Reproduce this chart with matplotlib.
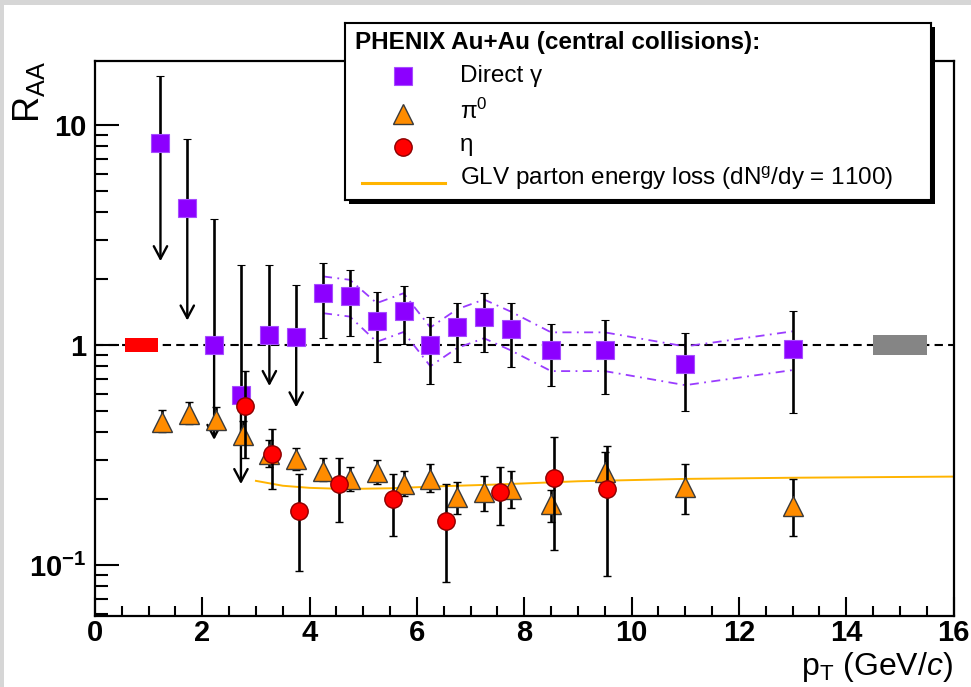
import matplotlib
matplotlib.use('Agg')
import matplotlib.pyplot as plt
import numpy as np
from matplotlib.patches import Rectangle
from matplotlib.ticker import MultipleLocator, FixedLocator, FuncFormatter, LogLocator, NullFormatter

plt.rcParams['font.family'] = ['Liberation Sans', 'DejaVu Sans']
plt.rcParams['mathtext.fontset'] = 'custom'
plt.rcParams['mathtext.rm'] = 'Liberation Sans'
plt.rcParams['mathtext.it'] = 'Liberation Sans:italic'
plt.rcParams['mathtext.bf'] = 'Liberation Sans:bold'
plt.rcParams['mathtext.default'] = 'regular'

# Direct photons (first 6 points are upper limits -> arrows)
gam_x = [1.22, 1.72, 2.22, 2.72, 3.25, 3.75, 4.25, 4.75, 5.25, 5.75, 6.25, 6.75, 7.25, 7.75, 8.5, 9.5, 11.0, 13.0]
gam_y = [8.3, 4.2, 1.0, 0.59, 1.11, 1.09, 1.72, 1.66, 1.29, 1.43, 1.0, 1.21, 1.34, 1.18, 0.95, 0.95, 0.82, 0.96]
gam_hi = [16.7, 8.6, 3.74, 2.31, 2.31, 1.87, 2.36, 2.19, 1.74, 1.85, 1.34, 1.55, 1.72, 1.55, 1.25, 1.30, 1.13, 1.43]
gam_lo = [None, None, None, None, None, None, 1.08, 1.10, 0.84, 1.01, 0.665, 0.84, 0.93, 0.79, 0.65, 0.60, 0.50, 0.49]
gam_arrow_tip = [2.4, 1.29, 0.37, 0.233, 0.65, 0.52]
# systematic band (relative) for the measured points
gam_sys = [0.19, 0.19, 0.2, 0.2, 0.2, 0.2, 0.2, 0.2, 0.2, 0.2, 0.2, 0.2]

# pi0
pi_x = [1.25, 1.75, 2.25, 2.75, 3.25, 3.75, 4.25, 4.75, 5.25, 5.75, 6.25, 6.75, 7.25, 7.75, 8.5, 9.5, 11.0, 13.0]
pi_y = [0.447, 0.486, 0.457, 0.39, 0.32, 0.303, 0.267, 0.246, 0.265, 0.233, 0.246, 0.204, 0.215, 0.222, 0.19, 0.265, 0.226, 0.185]
pi_hi = [0.506, 0.55, 0.52, 0.45, 0.37, 0.34, 0.306, 0.28, 0.30, 0.268, 0.288, 0.239, 0.254, 0.268, 0.22, 0.326, 0.288, 0.246]
pi_lo = [0.40, 0.437, 0.415, 0.355, 0.28, 0.27, 0.24, 0.217, 0.234, 0.206, 0.215, 0.171, 0.176, 0.182, 0.157, 0.22, 0.171, 0.135]

# eta
eta_x = [2.8, 3.3, 3.8, 4.55, 5.55, 6.55, 7.55, 8.55, 9.55]
eta_y = [0.528, 0.32, 0.176, 0.233, 0.2, 0.158, 0.215, 0.248, 0.222]
eta_hi = [0.76, 0.415, 0.259, 0.306, 0.259, 0.233, 0.279, 0.382, 0.348]
eta_lo = [0.306, 0.222, 0.094, 0.157, 0.135, 0.084, 0.152, 0.117, 0.089]

# GLV energy loss curve
glv_x = [3.0, 3.5, 4.0, 4.5, 5.0, 5.5, 6.5, 7.5, 9.0, 11.0, 13.0, 16.0]
glv_y = [0.241, 0.229, 0.224, 0.222, 0.222, 0.223, 0.228, 0.232, 0.240, 0.246, 0.249, 0.252]

# normalisation boxes at R_AA = 1
red_box = [0.55, 1.17, 0.93, 1.075]
grey_box = [14.5, 15.5, 0.90, 1.11]

W, H = 971, 687
fig = plt.figure(figsize=(W / 100, H / 100), dpi=100)
fig.patch.set_facecolor('#d6d6d6')
fig.add_artist(Rectangle((4 / W, 0), 967 / W, 682 / H, transform=fig.transFigure,
                         facecolor='white', edgecolor='none', zorder=-5))

ax = fig.add_axes([95 / W, 1 - 616 / H, 858.5 / W, 555 / H])
ax.set_yscale('log')
ax.set_xlim(0, 16)
ax.set_ylim(0.0586, 19.5)

ax.axhline(1.0, color='black', ls=(0, (4, 2.5)), lw=1.5, zorder=1)
ax.fill_between(red_box[:2], red_box[2], red_box[3], color='#ff0000', lw=0, zorder=2)
ax.fill_between(grey_box[:2], grey_box[2], grey_box[3], color='#858585', lw=0, zorder=2)

ax.plot(glv_x, glv_y, color='#ffb400', lw=1.4, zorder=2)

# photon systematic band
nl = len(gam_arrow_tip)
mx = np.array(gam_x[nl:])
my = np.array(gam_y[nl:])
sy = np.array(gam_sys)
for sgn in (1, -1):
    ax.plot(mx, my * (1 + sgn * sy), color='#9a3cff', lw=1.3, ls=(0, (5, 3, 1, 3)), zorder=2)

ebkw = dict(ecolor='black', elinewidth=1.9, capsize=3, capthick=1.9, ls='none')

# photons: limits
gx = np.array(gam_x)
gy = np.array(gam_y)
ghi = np.array(gam_hi)
ax.errorbar(gx[:nl], gy[:nl], yerr=[np.zeros(nl), ghi[:nl] - gy[:nl]],
            marker='s', ms=13, mfc='#8c00ff', mec='#a64dff', mew=0.8, zorder=3, **ebkw)
for x, y, t in zip(gam_x[:nl], gam_y[:nl], gam_arrow_tip):
    ax.annotate('', xy=(x, t), xytext=(x, y),
                arrowprops=dict(arrowstyle='->,head_length=0.45,head_width=0.24',
                                mutation_scale=20, lw=1.7, color='black',
                                shrinkA=0, shrinkB=0), zorder=3)
glo = np.array(gam_lo[nl:], dtype=float)
ax.errorbar(gx[nl:], gy[nl:], yerr=[gy[nl:] - glo, ghi[nl:] - gy[nl:]],
            marker='s', ms=13, mfc='#8c00ff', mec='#a64dff', mew=0.8, zorder=3, **ebkw)

# pi0
py = np.array(pi_y)
ax.errorbar(pi_x, pi_y, yerr=[py - np.array(pi_lo), np.array(pi_hi) - py],
            marker='^', ms=15, mfc='#ff8c00', mec='#3a3a3a', mew=1.0, zorder=4, **ebkw)

# eta
ey = np.array(eta_y)
ax.errorbar(eta_x, eta_y, yerr=[ey - np.array(eta_lo), np.array(eta_hi) - ey],
            marker='o', ms=12.5, mfc='#ff0000', mec='#8b0000', mew=1.0, zorder=5, **ebkw)

# axes styling
for s in ax.spines.values():
    s.set_linewidth(1.6)
ax.xaxis.set_major_locator(MultipleLocator(2))
ax.xaxis.set_minor_locator(MultipleLocator(0.5))
ax.yaxis.set_major_locator(FixedLocator([0.1, 1, 10]))
ax.yaxis.set_minor_locator(LogLocator(base=10, subs=np.arange(2, 10)))
ax.yaxis.set_minor_formatter(NullFormatter())
ylabels = {0.1: '10$^{-1}$', 1: '1', 10: '10'}
ax.yaxis.set_major_formatter(FuncFormatter(lambda v, p: ylabels.get(round(v, 3), '')))
ax.tick_params(which='both', direction='in', top=False, right=False, width=1.5)
ax.tick_params(axis='x', which='major', length=14, pad=2, labelsize=21)
ax.tick_params(axis='x', which='minor', length=7)
ax.tick_params(axis='y', which='major', length=17, pad=6, labelsize=21)
ax.tick_params(axis='y', which='minor', length=9)
for lab in ax.get_xticklabels() + ax.get_yticklabels():
    lab.set_fontweight('bold')

fig.text(953 / W, 1 - 675 / H, r'p$_T$ (GeV/$\mathit{c}$)', ha='right', va='baseline', fontsize=23)
fig.text(29 / W, 1 - 61 / H, r'R$_{AA}$', rotation=90, ha='center', va='top', fontsize=26)

# legend box with shadow
lx, ly, lw_, lh = 345, 23, 586, 177
fig.add_artist(Rectangle(((lx + 4) / W, 1 - (ly + lh + 4) / H), lw_ / W, lh / H,
                         transform=fig.transFigure, facecolor='black', edgecolor='none', zorder=1))
lax = fig.add_axes([lx / W, 1 - (ly + lh) / H, lw_ / W, lh / H], zorder=2)
lax.set_xlim(0, lw_)
lax.set_ylim(lh, 0)
lax.set_xticks([])
lax.set_yticks([])
for s in lax.spines.values():
    s.set_linewidth(1.5)
lax.text(10, 19, 'PHENIX Au+Au (central collisions):', fontsize=17.5, fontweight='bold', va='center')
lax.plot([58], [53], marker='s', ms=13, mfc='#8c00ff', mec='#a64dff', mew=0.8)
lax.plot([58], [91], marker='^', ms=15, mfc='#ff8c00', mec='#3a3a3a', mew=1.0)
lax.plot([58], [124], marker='o', ms=12.5, mfc='#ff0000', mec='#8b0000', mew=1.0)
lax.plot([17, 100], [160, 160], color='#ffb400', lw=2.2)
lax.text(115, 53, 'Direct γ', fontsize=17.5, va='center')
lax.text(115, 88, r'π$^0$', fontsize=17.5, va='center')
lax.text(115, 122, 'η', fontsize=17.5, va='center')
lax.text(115, 155, r'GLV parton energy loss (dN$^g$/dy = 1100)', fontsize=17.5, va='center')

fig.savefig('out.png', dpi=100, facecolor=fig.get_facecolor())
